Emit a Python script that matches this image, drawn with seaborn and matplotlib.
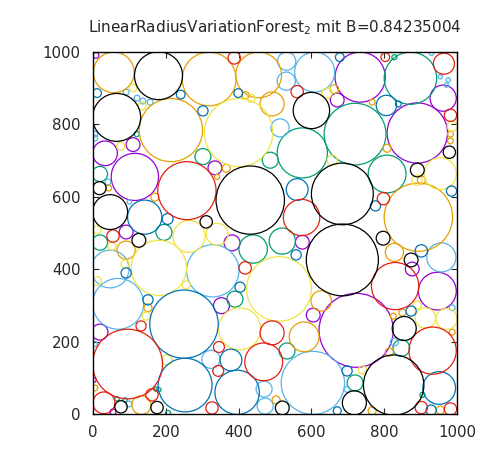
import matplotlib
matplotlib.use("Agg")
import matplotlib.pyplot as plt
from matplotlib.patches import Circle
import seaborn as sns

# circles as (x, y, radius), grouped by colour
black = [(180, 934, 66), (600, 838, 50), (979, 723, 17), (891, 674, 19), (685, 608, 85),
         (685, 426, 99), (65, 819, 66), (18, 624, 18), (47, 558, 48), (311, 531, 17),
         (432, 591, 94), (126, 480, 19), (797, 486, 19), (874, 426, 19), (855, 237, 33),
         (826, 81, 83), (718, 32, 33), (520, 18, 19), (77, 21, 17), (176, 19, 17)]
orange = [(57, 943, 56), (319, 925, 74), (455, 936, 63), (663, 897, 12), (492, 856, 33),
          (767, 861, 8), (982, 773, 8), (982, 754, 8), (808, 734, 11), (902, 646, 11),
          (894, 544, 94), (419, 880, 10), (214, 784, 87), (366, 679, 11), (341, 655, 7),
          (43, 624, 8), (170, 599, 11), (91, 453, 25), (151, 294, 11), (133, 26, 26),
          (5, 73, 8), (828, 447, 25), (825, 271, 8), (850, 281, 10), (987, 227, 8),
          (627, 313, 28), (580, 214, 41), (814, 172, 11), (767, 10, 11), (503, 40, 11),
          (954, 12, 11)]
yellow = [(643, 886, 14), (987, 795, 14), (657, 701, 14), (954, 664, 44), (890, 646, 14),
          (400, 777, 94), (434, 872, 11), (110, 900, 10), (135, 851, 11), (76, 740, 11),
          (11, 509, 11), (52, 464, 11), (264, 491, 44), (341, 497, 30), (181, 404, 76),
          (511, 346, 89), (88, 415, 11), (11, 368, 12), (256, 357, 11), (146, 271, 11),
          (403, 236, 58), (203, 150, 14), (891, 302, 11), (913, 266, 28), (971, 263, 29),
          (740, 123, 11)]
blue = [(678, 985, 12), (806, 852, 28), (985, 616, 14), (839, 856, 8), (776, 575, 14),
        (561, 620, 30), (399, 886, 12), (241, 882, 12), (302, 837, 14), (11, 886, 12),
        (142, 544, 47), (205, 539, 15), (91, 390, 14), (404, 351, 14), (250, 249, 94),
        (151, 316, 14), (379, 150, 30), (253, 81, 74), (396, 61, 61), (558, 440, 14),
        (902, 451, 17), (874, 285, 14), (698, 120, 14), (671, 10, 11), (951, 73, 45),
        (929, 12, 14)]
lightblue = [(532, 974, 25), (531, 919, 25), (609, 944, 55), (514, 790, 25), (91, 889, 8),
             (121, 872, 8), (137, 864, 8), (157, 861, 8), (41, 641, 8), (100, 586, 6),
             (5, 773, 8), (5, 762, 8), (47, 401, 52), (329, 396, 72), (69, 305, 70),
             (324, 152, 25), (470, 70, 22), (473, 23, 22), (99, 29, 8), (5, 194, 7),
             (957, 433, 40), (987, 294, 8), (828, 200, 11), (604, 87, 87), (698, 69, 8),
             (954, 931, 6), (976, 922, 6), (971, 908, 6), (930, 996, 6)]
green = [(872, 927, 72), (828, 985, 7), (720, 773, 85), (575, 721, 69), (808, 663, 52),
         (120, 773, 7), (302, 711, 22), (487, 701, 22), (19, 663, 21), (19, 474, 21),
         (195, 502, 22), (440, 456, 39), (390, 318, 22), (66, 43, 6), (88, 40, 6),
         (173, 70, 6), (181, 68, 6), (206, 4, 7), (520, 478, 36), (847, 183, 23),
         (533, 175, 22), (720, 87, 22), (905, 54, 7)]
purple = [(734, 930, 69), (962, 872, 36), (671, 867, 19), (891, 776, 83), (33, 720, 34),
          (110, 744, 19), (335, 680, 19), (115, 655, 65), (91, 503, 19), (382, 473, 22),
          (353, 300, 22), (19, 227, 22), (55, 7, 8), (3, 95, 6), (575, 475, 19),
          (877, 401, 19), (946, 340, 52), (605, 274, 19), (723, 232, 102), (8, 990, 8)]
red = [(388, 983, 17), (964, 967, 29), (982, 825, 17), (803, 985, 12), (561, 890, 17),
       (798, 595, 17), (573, 543, 50), (258, 617, 80), (55, 492, 17), (418, 404, 17),
       (132, 244, 14), (95, 139, 96), (346, 186, 15), (469, 145, 52), (344, 120, 15),
       (327, 18, 17), (162, 54, 17), (30, 32, 30), (830, 354, 65), (492, 225, 33),
       (933, 176, 65), (902, 19, 17), (982, 15, 17)]

ticks = [0, 200, 400, 600, 800, 1000]

sns.set_style("ticks")
plt.rcParams['font.family'] = ['DejaVu Sans']
pal = sns.color_palette(['#9400D3', '#009E73', '#56B4E9', '#E69F00',
                         '#F0E442', '#0072B2', '#E51E10', '#000000'])

fig = plt.figure(figsize=(5, 4.5), dpi=100)
ax = fig.add_axes([0.186, 0.079, 0.728, 0.806])

groups = [(purple, pal[0]), (green, pal[1]), (lightblue, pal[2]), (orange, pal[3]),
          (yellow, pal[4]), (blue, pal[5]), (red, pal[6]), (black, pal[7])]
for circles, col in groups:
    for x, y, r in circles:
        ax.add_patch(Circle((x, y), r, fill=False, ec=col, lw=0.9))

ax.set_xlim(0, 1000)
ax.set_ylim(0, 1000)
ax.set_xticks(ticks)
ax.set_yticks(ticks)
ax.tick_params(direction='in', top=True, right=True, length=4, labelsize=10.8)
ax.tick_params(axis='x', pad=7.5)
ax.tick_params(axis='y', pad=9)
for s in ax.spines.values():
    s.set_linewidth(1.0)
    s.set_color('black')
ax.set_title('LinearRadiusVariationForest$_2$ mit B=0.84235004', fontsize=11, pad=14)

fig.savefig('out.png', dpi=100)
